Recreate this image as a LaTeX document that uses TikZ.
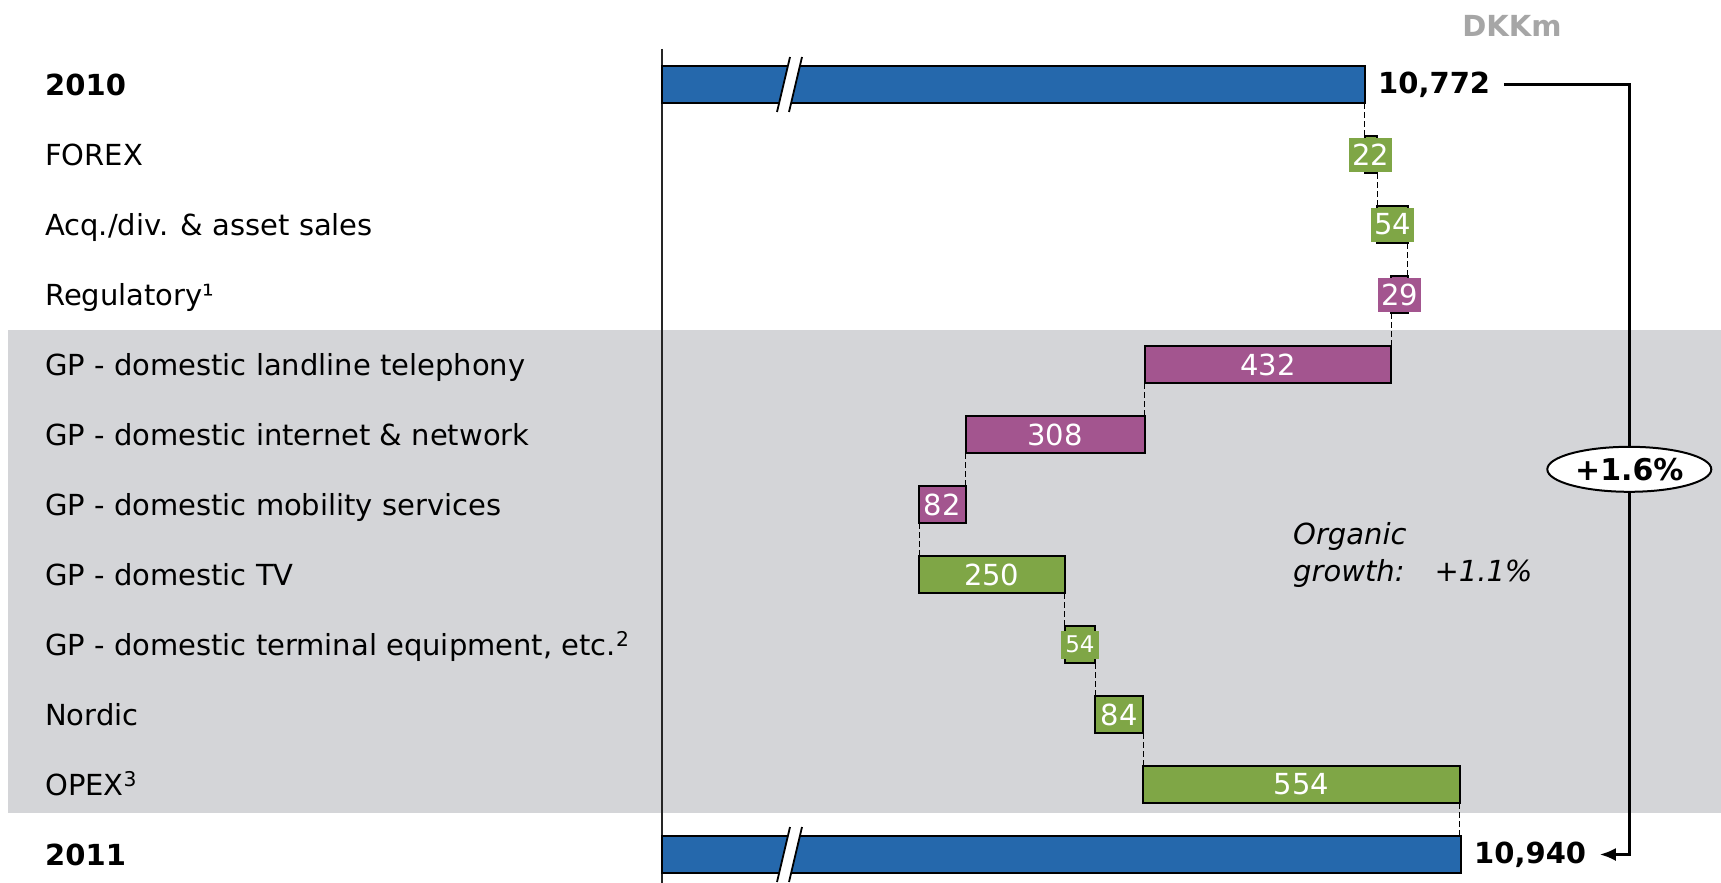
\documentclass[tikz,border=0pt]{standalone}
\usepackage{fontspec}
\setmainfont{DejaVu Sans}
\usetikzlibrary{positioning,arrows.meta,shapes.geometric}

\definecolor{tdcblue}{HTML}{2568AC}
\definecolor{tdcgreen}{HTML}{7FA646}
\definecolor{tdcpurple}{HTML}{A3558F}
\definecolor{bandgray}{HTML}{D4D5D8}
\definecolor{unitgray}{HTML}{A6A6A6}

\tikzset{
    wfbar/.style={draw=black, line width=2pt, fill=#1, minimum height=37pt,
        inner sep=0pt, outer sep=0pt, anchor=west},
    val/.style={fill=#1, text=white, inner xsep=3pt, inner ysep=0pt,
        minimum height=34pt, font=\fontsize{29}{34}\selectfont},
    rowlbl/.style={inner sep=0pt, anchor=base west, font=\fontsize{29}{34}\selectfont},
    total/.style={inner xsep=13.5pt, inner ysep=0pt, anchor=west,
        font=\fontsize{29}{34}\selectfont\bfseries},
    link/.style={line width=1pt, dash pattern=on 6pt off 3pt},
    bracket/.style={line width=2.5pt},
}

\begin{document}
\begin{tikzpicture}[x=1pt,y=-1pt]
    \useasboundingbox[fill=white] (0,0) rectangle (1721,883);
    %% shaded rows
    \fill[bandgray] (8,330) rectangle (1721,813);
    %% axis
    \draw[line width=1.6pt, black!85] (662,49) -- (662,883);
    %% row labels
    \foreach \lbl [count=\i from 0] in {{\bfseries 2010}, FOREX,
            {Acq./div. \& asset sales}, Regulatory¹,
            {GP - domestic landline telephony}, {GP - domestic internet \& network},
            {GP - domestic mobility services}, {GP - domestic TV},
            {GP - domestic terminal equipment, etc.\textsuperscript{2}}, Nordic,
            {OPEX\textsuperscript{3}}, {\bfseries 2011}}
        \node[rowlbl] (r\i) at (45,{95.5+70*\i}) {\lbl};
    %% unit
    \node[text=unitgray, font=\fontsize{29}{34}\selectfont\bfseries] (unit) at (1512,26) {DKKm};
    %% bars
    \node[wfbar=tdcblue, minimum width=702.5pt] (y2010) at (662,84.5) {};
    \node[wfbar=tdcgreen, minimum width=12.6pt] (forex) at (1364.5,154.5) {};
    \node[wfbar=tdcgreen, minimum width=30.8pt] (acq) at (1377.1,224.5) {};
    \node[wfbar=tdcpurple, minimum width=16.5pt] (reg) at (1391.4,294.5) {};
    \node[wfbar=tdcpurple, minimum width=246.9pt] (land) at (1144.5,364.5) {};
    \node[wfbar=tdcpurple, minimum width=179pt] (inet) at (965.5,434.5) {};
    \node[wfbar=tdcpurple, minimum width=46.5pt] (mob) at (919,504.5) {};
    \node[wfbar=tdcgreen, minimum width=145.5pt] (tv) at (919,574.5) {};
    \node[wfbar=tdcgreen, minimum width=30.9pt] (term) at (1064.5,644.5) {};
    \node[wfbar=tdcgreen, minimum width=48pt] (nordic) at (1095.4,714.5) {};
    \node[wfbar=tdcgreen, minimum width=316.5pt] (opex) at (1143.4,784.5) {};
    \node[wfbar=tdcblue, minimum width=798.5pt] (y2011) at (662,854.5) {};
    %% axis breaks
    \foreach \yc in {84.5,854.5} {
        \fill[white] (777,\yc+27.5) -- (790,\yc-27.5) -- (802,\yc-27.5) -- (789,\yc+27.5) -- cycle;
        \draw[line width=1.8pt] (777,\yc+27.5) -- (790,\yc-27.5) (789,\yc+27.5) -- (802,\yc-27.5);
    }
    %% values
    \node[val=tdcgreen] (forexv) at (forex.center) {22};
    \node[val=tdcgreen] (acqv) at (acq.center) {54};
    \node[val=tdcpurple] (regv) at (reg.center) {29};
    \node[val=tdcpurple] (landv) at (land.center) {432};
    \node[val=tdcpurple] (inetv) at (inet.center) {308};
    \node[val=tdcpurple] (mobv) at (mob.center) {82};
    \node[val=tdcgreen] (tvv) at (tv.center) {250};
    \node[val=tdcgreen, minimum height=28pt, inner xsep=4pt,
        font=\fontsize{23}{27}\selectfont] (termv) at (term.center) {54};
    \node[val=tdcgreen] (nordicv) at (nordic.center) {84};
    \node[val=tdcgreen] (opexv) at (opex.center) {554};
    %% step links
    \draw[link] (y2010.south east) -- (y2010.south east |- forex.north);
    \draw[link] (forex.south east) -- (forex.south east |- acq.north);
    \draw[link] (acq.south east) -- (acq.south east |- reg.north);
    \draw[link] (reg.south west) -- (reg.south west |- land.north);
    \draw[link] (land.south west) -- (land.south west |- inet.north);
    \draw[link] (inet.south west) -- (inet.south west |- mob.north);
    \draw[link] (mob.south west) -- (mob.south west |- tv.north);
    \draw[link] (tv.south east) -- (tv.south east |- term.north);
    \draw[link] (term.south east) -- (term.south east |- nordic.north);
    \draw[link] (nordic.south east) -- (nordic.south east |- opex.north);
    \draw[link] (opex.south east) -- (opex.south east |- y2011.north);
    %% totals
    \node[total, right=0pt of y2010] (n2010) {10,772};
    \node[total, right=0pt of y2011] (n2011) {10,940};
    %% organic growth
    \node[rowlbl, font=\fontsize{29}{34}\selectfont\itshape] (og1) at (1293,544) {Organic};
    \node[rowlbl, font=\fontsize{29}{34}\selectfont\itshape] (og2) at (1293,581.7)
        {growth:\hspace{30pt}+1.1\%};
    %% reported growth
    \node[ellipse, draw, fill=white, line width=2pt, minimum width=164pt,
        minimum height=45pt, inner sep=0pt, font=\fontsize{30}{34}\selectfont\bfseries]
        (growth) at (1629.3,469.3) {+1.6\%};
    \draw[bracket] (n2010.east) -| (growth.north);
    \draw[bracket, -{Latex[length=16pt,width=13pt]}] (growth.south) |- (n2011.east);
\end{tikzpicture}
\end{document}
